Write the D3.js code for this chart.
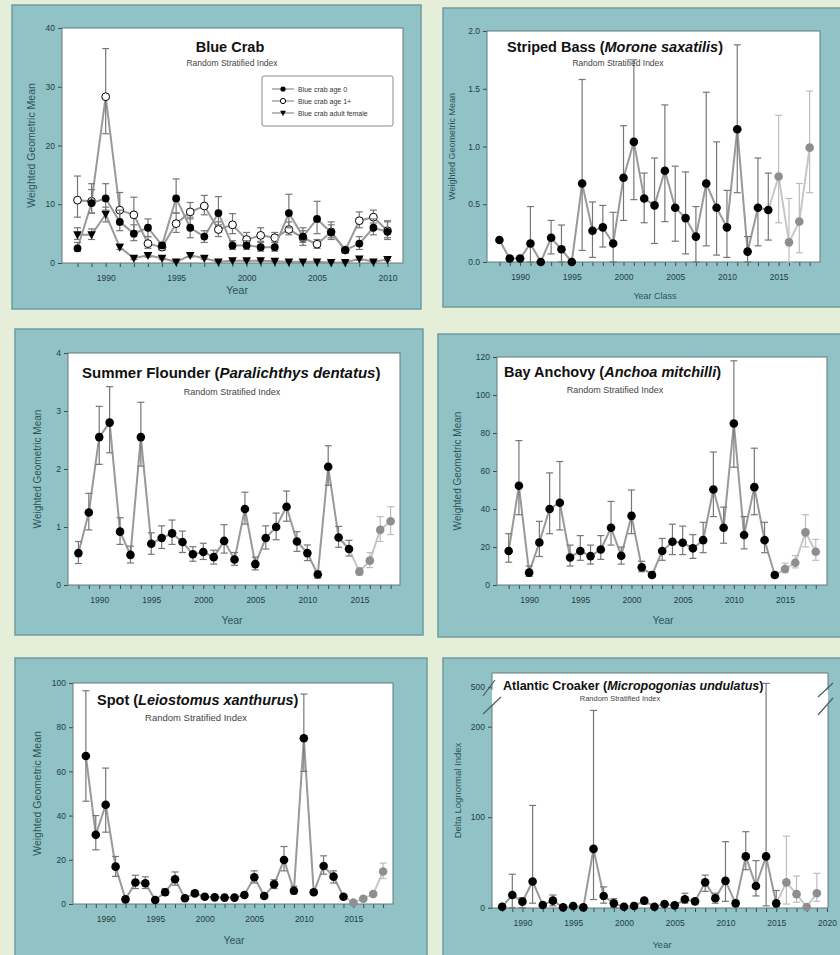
<!DOCTYPE html>
<html>
<head>
<meta charset="utf-8">
<script src="https://cdn.jsdelivr.net/npm/d3@7"></script>
<style>
  body { margin: 0; background: #e4eed9; }
  svg { display: block; font-family: "Liberation Sans", Arial, sans-serif; }
</style>
</head>
<body>
<script>
// ---- data ----
const yearsCrab = [1988,1989,1990,1991,1992,1993,1994,1995,1996,1997,1998,1999,2000,2001,2002,2003,2004,2005,2006,2007,2008,2009,2010];
const years1988to2018 = [1988,1989,1990,1991,1992,1993,1994,1995,1996,1997,1998,1999,2000,2001,2002,2003,2004,2005,2006,2007,2008,2009,2010,2011,2012,2013,2014,2015,2016,2017,2018];
const years1988to2019 = [1988,1989,1990,1991,1992,1993,1994,1995,1996,1997,1998,1999,2000,2001,2002,2003,2004,2005,2006,2007,2008,2009,2010,2011,2012,2013,2014,2015,2016,2017,2018,2019];

const crabAge0 = [2.5,10.2,11,7,5,6,3,11,6,4.5,8.5,3,3,2.7,2.7,8.5,4.5,7.5,5.2,2.2,3.3,6,5.3];
const crabAge0Lo = [2,8.5,9,5.5,3.8,4.5,2.5,8.5,4.3,3.5,6.5,2.3,2.3,2,2,6,3,5,4,1.7,2.3,4.8,4];
const crabAge0Hi = [3.5,12.5,13.5,9,6.5,7.5,3.5,14.3,7.8,5.5,11.3,3.8,3.8,3.5,3.5,11.7,6,10.5,6.5,2.7,4.5,7.5,7];
const crabAge1 = [10.7,10.5,28.3,9,8.2,3.3,2.7,6.7,8.7,9.7,5.7,6.5,4,4.7,4.3,5.7,4.3,3.2,5.3,2.2,7.2,7.8,5.5];
const crabAge1Lo = [7.8,8.5,22,7,5.5,2.5,2.2,5.2,7.5,8.2,4.5,5,3.2,3.7,3.5,4.8,3.5,2.5,4.3,1.7,6,6.8,4.3];
const crabAge1Hi = [14.8,13.5,36.5,12,11.2,4.5,3.3,8.5,10.3,11.5,7,8.4,5.2,6,5.2,7,5.5,4,7,2.7,8.7,9,7.2];
const crabAdult = [4.8,4.8,8.3,2.7,0.8,1.3,0.8,0.2,1.3,0.8,0.2,0.4,0.4,0.4,0.3,0.2,0.2,0.2,0.1,0.1,0.7,0.2,0.6];
const crabAdultLo = [4,4,7,2.3,0.6,1,0.6,0.1,1,0.6,0.1,0.3,0.3,0.3,0.2,0.1,0.1,0.1,0.05,0.05,0.5,0.1,0.4];
const crabAdultHi = [6,5.8,9.5,3.2,1,1.6,1,0.3,1.6,1,0.3,0.5,0.5,0.5,0.4,0.3,0.3,0.3,0.2,0.2,0.9,0.3,0.8];
const crabLegend = ["Blue crab age 0", "Blue crab age 1+", "Blue crab adult female"];

const bassVal = [0.19,0.03,0.03,0.16,0.0,0.21,0.11,0.0,0.68,0.27,0.30,0.16,0.73,1.04,0.55,0.49,0.79,0.47,0.38,0.22,0.68,0.47,0.30,1.15,0.09,0.47,0.45,0.74,0.17,0.35,0.99];
const bassLo = [0.19,0,0,0,0,0.07,0,0,0.1,0.04,0.13,0,0.36,0.54,0.34,0.16,0.35,0.18,0.07,0,0.14,0.06,0.04,0.6,0,0.14,0.19,0.34,0,0.08,0.6];
const bassHi = [0.19,0.05,0.05,0.48,0,0.36,0.32,0,1.58,0.52,0.49,0.43,1.18,1.75,0.77,0.9,1.36,0.83,0.78,0.48,1.47,1.04,0.62,1.88,0.22,0.9,0.77,1.27,0.55,0.68,1.48];

const flounderVal = [0.55,1.25,2.55,2.80,0.92,0.52,2.55,0.71,0.81,0.89,0.74,0.53,0.57,0.48,0.76,0.44,1.31,0.36,0.81,1.0,1.35,0.75,0.55,0.18,2.04,0.82,0.62,0.23,0.42,0.95,1.10];
const flounderLo = [0.37,0.95,2.08,2.28,0.7,0.38,2.05,0.53,0.63,0.7,0.56,0.41,0.44,0.36,0.55,0.34,1.05,0.26,0.62,0.78,1.1,0.58,0.42,0.12,1.72,0.65,0.5,0.17,0.3,0.75,0.87];
const flounderHi = [0.75,1.58,3.08,3.42,1.16,0.67,3.15,0.9,1.02,1.12,0.93,0.66,0.72,0.6,1.04,0.56,1.6,0.48,1.02,1.24,1.62,0.92,0.69,0.24,2.4,1.01,0.77,0.3,0.56,1.18,1.35];

const anchovyVal = [17.9,52.2,6.5,22.4,40,43.3,14.5,17.9,15.2,18.7,30.1,15.4,36.4,9.3,5.3,17.9,22.8,22.2,19.3,23.6,50.3,30.1,85,26.3,51.5,23.6,5.3,8.4,11.7,27.7,17.5];
const anchovyLo = [12,37,4.5,15,27,29,10,13,11,13.5,21,11,27,7,4,13,16,16,14,17,36,22,62,19,37,17,4,6.5,9,20,13];
const anchovyHi = [27,76,10,33.5,59,65,21,26,21,26,44,20,50,12.5,7,24.5,32,31,26.5,33,70,41,118,36,72,33,6.5,11.5,15.5,37,24];

const spotVal = [67,31.3,44.9,16.9,2.1,9.7,9.4,1.8,5.3,11.2,2.6,4.8,3.3,3.0,2.9,2.9,4.1,12.1,3.6,8.9,19.9,6.0,75,5.3,17.2,12.4,3.3,0.6,2.4,4.5,14.7];
const spotLo = [46.5,24.5,32.5,12.5,1.5,7,7,1,4,8.5,2,3.8,2.6,2.4,2.3,2.3,3.2,9.5,2.7,7,15,4.5,60,4.3,13.5,9.5,2.6,0.3,1.8,3.7,11.5];
const spotHi = [96.5,40,61.5,21.5,3,13,12.3,2.5,7,14.5,3.3,6,4,3.7,3.5,3.5,5,15,4.5,11,26,8,95,6.5,21.8,15,4,1,3.2,5.5,18.5];

const croakerVal = [1,14,6.7,29,3,7.8,0.4,1.8,0.4,65,13,4.8,1,1.8,7.8,1,4,2.6,9.3,7,28,10.4,29.6,4.8,56.7,24,56.7,4.8,28,15,0.7,16];
const croakerLo = [1,0,0,5,3,2,0.4,1.8,0.4,9,5,0,1,0,4,1,2,1,5,4,18,5,7,2,42,13,2,1,4,6,0,7];
const croakerHi = [1,37,11,113,3,14,0.4,1.8,0.4,218,23,10,1,5,10,1,6,5,16,9,36,16,73,8,84,52,508,19,79,35,1,38];

// ---- drawing ----
const svg = d3.select("body").append("svg").attr("width", 840).attr("height", 955);
svg.append("rect").attr("width", 840).attr("height", 955).attr("fill", "#e4eed9");

const LINE = "#999", LINE_P = "#c6c6c6", ERR = "#777", ERR_P = "#bdbdbd";

function drawPanel(o) {
  const g = svg.append("g");
  g.append("rect")
    .attr("x", o.box[0]).attr("y", o.box[1]).attr("width", o.box[2]).attr("height", o.box[3])
    .attr("fill", "#91c3c6").attr("stroke", "#6f9c9e").attr("stroke-width", 1.5);

  const [px0, py0, px1, py1] = o.plot;
  g.append("rect").attr("x", px0).attr("y", py0).attr("width", px1 - px0).attr("height", py1 - py0)
    .attr("fill", "#fff");

  const x = d3.scaleLinear().domain(o.xDomain).range([px0, px1]);
  const y = o.y;

  // axes
  const xa = g.append("g").attr("transform", `translate(0,${py1})`)
    .call(d3.axisBottom(x).tickValues(o.xTicks).tickSize(4).tickSizeOuter(0)
      .tickFormat(d => d % 5 === 0 ? d : ""));
  const ya = g.append("g").attr("transform", `translate(${px0},0)`)
    .call(d3.axisLeft(y).tickValues(o.yTicks).tickSize(4).tickSizeOuter(0).tickFormat(o.yFmt));
  [xa, ya].forEach(a => {
    a.select(".domain").remove();
    a.selectAll("line").attr("stroke", "#3d4b4c");
    a.selectAll("text").attr("fill", "#253c3e").attr("font-size", 8.5)
      .attr("font-family", "Liberation Sans, Arial, sans-serif");
  });
  xa.selectAll("text").attr("dy", "1.25em");

  // frame
  if (o.frame) o.frame(g, x, y);
  else g.append("rect").attr("x", px0).attr("y", py0).attr("width", px1 - px0).attr("height", py1 - py0)
    .attr("fill", "none").attr("stroke", "#62797a").attr("stroke-width", 1);

  // series
  o.series.forEach(s => {
    const pts = s.years.map((yr, i) => ({ yr, v: s.val[i], lo: s.lo[i], hi: s.hi[i],
      prelim: s.prelimFrom != null && yr >= s.prelimFrom }));
    const line = d3.line().x(d => x(d.yr)).y(d => y(d.v));
    const main = pts.filter(d => !d.prelim);
    const pre = pts.filter((d, i) => d.prelim || (i + 1 < pts.length && pts[i + 1].prelim));
    g.append("path").attr("d", line(main)).attr("fill", "none")
      .attr("stroke", LINE).attr("stroke-width", 2);
    if (pre.length > 1) g.append("path").attr("d", line(pre)).attr("fill", "none")
      .attr("stroke", LINE_P).attr("stroke-width", 2);

    const eb = g.append("g");
    pts.filter(d => d.hi > d.v + 1e-9 || d.lo < d.v - 1e-9).forEach(d => {
      const c = d.prelim ? ERR_P : ERR;
      const cx = x(d.yr);
      eb.append("line").attr("x1", cx).attr("x2", cx).attr("y1", y(d.lo)).attr("y2", y(d.hi))
        .attr("stroke", c).attr("stroke-width", 1.2);
      [d.lo, d.hi].forEach(v => {
        if (Math.abs(v - d.v) < 1e-9) return;
        eb.append("line").attr("x1", cx - 3.5).attr("x2", cx + 3.5).attr("y1", y(v)).attr("y2", y(v))
          .attr("stroke", c).attr("stroke-width", 1.2);
      });
    });

    const r = s.r || 4.3;
    pts.forEach(d => {
      const fill = d.prelim ? "#8e8e8e" : "#000";
      marker(g, s.marker, x(d.yr), y(d.v), r, fill);
    });
  });

  // texts
  const t = g.append("text").attr("x", o.title.x).attr("y", o.title.y)
    .attr("font-size", o.title.size).attr("font-weight", "bold").attr("fill", "#111")
    .attr("text-anchor", o.title.anchor || "start");
  o.title.parts.forEach(p => t.append("tspan").text(p[0]).attr("font-style", p[1] ? "italic" : "normal"));
  g.append("text").attr("x", o.sub.x).attr("y", o.sub.y).attr("text-anchor", "middle")
    .attr("font-size", o.sub.size || 9.5).attr("fill", "#444").text("Random Stratified Index");

  g.append("text").attr("transform", `translate(${o.yLabel.x},${(py0 + py1) / 2}) rotate(-90)`)
    .attr("text-anchor", "middle").attr("font-size", o.yLabel.size).attr("fill", "#2d5558")
    .text(o.yLabel.text);
  g.append("text").attr("x", o.xLabel.x).attr("y", o.xLabel.y).attr("text-anchor", "middle")
    .attr("font-size", o.xLabel.size).attr("fill", "#2d5558").text(o.xLabel.text);
  return { g, x, y };
}

function marker(g, type, cx, cy, r, fill) {
  if (type === "open") {
    g.append("circle").attr("cx", cx).attr("cy", cy).attr("r", r)
      .attr("fill", "#fff").attr("stroke", "#000").attr("stroke-width", 1);
  } else if (type === "tri") {
    const h = r * 1.1;
    g.append("path").attr("d", `M${cx - h},${cy - h * 0.8}L${cx + h},${cy - h * 0.8}L${cx},${cy + h * 1.1}Z`)
      .attr("fill", fill);
  } else {
    g.append("circle").attr("cx", cx).attr("cy", cy).attr("r", r).attr("fill", fill);
  }
}

// Panel 1: Blue Crab
const p1 = drawPanel({
  box: [12, 5, 409, 304], plot: [62, 28, 403, 263],
  xDomain: [1986.9, 2011.1], xTicks: yearsCrab,
  y: d3.scaleLinear().domain([0, 40]).range([263, 28]), yTicks: [0, 10, 20, 30, 40], yFmt: d3.format("d"),
  series: [
    { years: yearsCrab, val: crabAdult, lo: crabAdultLo, hi: crabAdultHi, marker: "tri", r: 3.9 },
    { years: yearsCrab, val: crabAge1, lo: crabAge1Lo, hi: crabAge1Hi, marker: "open", r: 3.9 },
    { years: yearsCrab, val: crabAge0, lo: crabAge0Lo, hi: crabAge0Hi, marker: "filled", r: 3.9 }
  ],
  title: { x: 230, y: 52, size: 14.5, anchor: "middle", parts: [["Blue Crab", false]] },
  sub: { x: 232, y: 66, size: 8.5 },
  yLabel: { x: 35, text: "Weighted Geometric Mean", size: 10.5 },
  xLabel: { x: 237, y: 294, text: "Year", size: 11 }
});
// legend
{
  const lg = p1.g.append("g");
  lg.append("rect").attr("x", 262).attr("y", 76).attr("width", 131).attr("height", 50).attr("rx", 2)
    .attr("fill", "#fff").attr("stroke", "#8a8a8a").attr("stroke-width", 1);
  const types = ["filled", "open", "tri"];
  crabLegend.forEach((name, i) => {
    const yy = 89 + i * 12;
    lg.append("line").attr("x1", 272).attr("x2", 294).attr("y1", yy).attr("y2", yy)
      .attr("stroke", "#777").attr("stroke-width", 1);
    marker(lg, types[i], 283, yy, 2.6, "#000");
    lg.append("text").attr("x", 298).attr("y", yy + 2.5).attr("font-size", 7).attr("fill", "#333").text(name);
  });
}

// Panel 2: Striped Bass
drawPanel({
  box: [443, 8, 400, 299], plot: [487, 31, 820, 262],
  xDomain: [1986.8, 2019], xTicks: years1988to2018,
  y: d3.scaleLinear().domain([0, 2]).range([262, 31]), yTicks: [0, 0.5, 1, 1.5, 2], yFmt: d3.format(".1f"),
  series: [{ years: years1988to2018, val: bassVal, lo: bassLo, hi: bassHi, marker: "filled", prelimFrom: 2015 }],
  title: { x: 507, y: 52, size: 14.5, parts: [["Striped Bass (", false], ["Morone saxatilis", true], [")", false]] },
  sub: { x: 618, y: 66, size: 8.5 },
  yLabel: { x: 455, text: "Weighted Geometric Mean", size: 9 },
  xLabel: { x: 655, y: 299, text: "Year Class", size: 9 }
});

// Panel 3: Summer Flounder
drawPanel({
  box: [15, 329, 408, 306], plot: [68, 353, 400, 585],
  xDomain: [1987, 2018.9], xTicks: years1988to2018,
  y: d3.scaleLinear().domain([0, 4]).range([585, 353]), yTicks: [0, 1, 2, 3, 4], yFmt: d3.format("d"),
  series: [{ years: years1988to2018, val: flounderVal, lo: flounderLo, hi: flounderHi, marker: "filled", prelimFrom: 2015 }],
  title: { x: 82, y: 378, size: 15, parts: [["Summer Flounder (", false], ["Paralichthys dentatus", true], [")", false]] },
  sub: { x: 232, y: 395, size: 9 },
  yLabel: { x: 41, text: "Weighted Geometric Mean", size: 10 },
  xLabel: { x: 232, y: 624, text: "Year", size: 10.5 }
});

// Panel 4: Bay Anchovy
drawPanel({
  box: [438, 334, 405, 303], plot: [497, 357, 827, 585],
  xDomain: [1986.86, 2019.1], xTicks: years1988to2018,
  y: d3.scaleLinear().domain([0, 120]).range([585, 357]), yTicks: [0, 20, 40, 60, 80, 100, 120], yFmt: d3.format("d"),
  series: [{ years: years1988to2018, val: anchovyVal, lo: anchovyLo, hi: anchovyHi, marker: "filled", prelimFrom: 2015 }],
  title: { x: 504, y: 377, size: 14.5, parts: [["Bay Anchovy (", false], ["Anchoa mitchilli", true], [")", false]] },
  sub: { x: 615, y: 393, size: 9 },
  yLabel: { x: 461, text: "Weighted Geometric Mean", size: 10 },
  xLabel: { x: 663, y: 624, text: "Year", size: 10.5 }
});

// Panel 5: Spot
drawPanel({
  box: [15, 658, 412, 305], plot: [73, 683, 393, 904],
  xDomain: [1986.7, 2019], xTicks: years1988to2018,
  y: d3.scaleLinear().domain([0, 100]).range([904, 683]), yTicks: [0, 20, 40, 60, 80, 100], yFmt: d3.format("d"),
  series: [{ years: years1988to2018, val: spotVal, lo: spotLo, hi: spotHi, marker: "filled", prelimFrom: 2015 }],
  title: { x: 97, y: 705, size: 14.5, parts: [["Spot (", false], ["Leiostomus xanthurus", true], [")", false]] },
  sub: { x: 196, y: 721, size: 9.5 },
  yLabel: { x: 41, text: "Weighted Geometric Mean", size: 10.5 },
  xLabel: { x: 234, y: 944, text: "Year", size: 10.5 }
});

// Panel 6: Atlantic Croaker (broken y axis)
const croakerY = d3.scaleLinear().domain([0, 220, 490, 530]).range([907.7, 708.6, 692, 673]);
drawPanel({
  box: [443, 658, 400, 305], plot: [492, 673, 828, 908],
  xDomain: [1987, 2020.1], xTicks: years1988to2019.concat([2020]),
  y: croakerY, yTicks: [0, 100, 200, 500], yFmt: d3.format("d"),
  series: [{ years: years1988to2019, val: croakerVal, lo: croakerLo, hi: croakerHi, marker: "filled", prelimFrom: 2016 }],
  frame: (g, x, y) => {
    const [a, b] = [492, 828];
    const c = "#62797a";
    const seg = (x1, y1, x2, y2, col, w) => g.append("line").attr("x1", x1).attr("y1", y1)
      .attr("x2", x2).attr("y2", y2).attr("stroke", col).attr("stroke-width", w);
    seg(a, 673, b, 673, c, 1);
    seg(a, 908, b, 908, c, 1);
    [a, b].forEach(xx => { seg(xx, 908, xx, 705, c, 1); seg(xx, 690, xx, 673, c, 1); });
    // break marks
    [[483, 696, 495, 680], [483, 714, 501, 697], [818, 697, 833, 683], [818, 715, 833, 698]]
      .forEach(s => seg(s[0], s[1], s[2], s[3], "#46605f", 1.2));
  },
  title: { x: 503, y: 690, size: 12.5, parts: [["Atlantic Croaker (", false], ["Micropogonias undulatus", true], [")", false]] },
  sub: { x: 620, y: 701, size: 7.5 },
  yLabel: { x: 461, text: "Delta Lognormal Index", size: 9.5 },
  xLabel: { x: 662, y: 948, text: "Year", size: 9.5 }
});
</script>
</body>
</html>
